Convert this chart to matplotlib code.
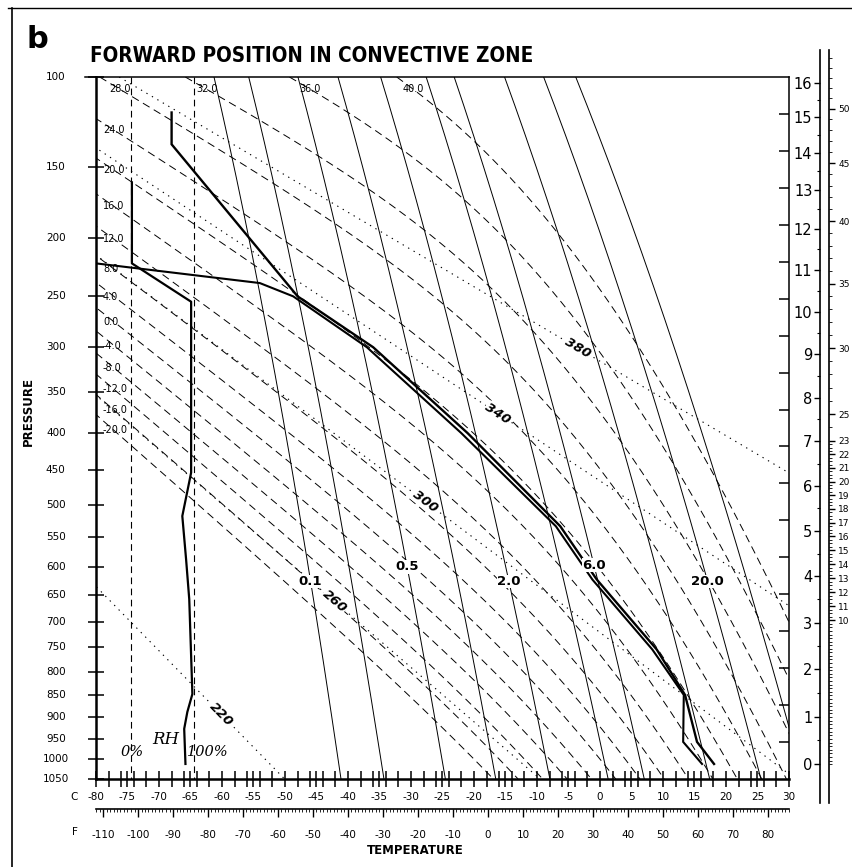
import numpy as np
import matplotlib
matplotlib.use("Agg")
import matplotlib.pyplot as plt
from matplotlib.lines import Line2D
from matplotlib.ticker import FixedLocator, NullFormatter

plt.rcParams["axes.unicode_minus"] = False

# ---------------------------------------------------------------- data
dry_theta = [220, 260, 300, 340, 380]                      # potential temperature, K
dry_label_p = [893, 661, 495, 375, 301]                    # hPa where each label sits

moist_thetaw = [-20, -16, -12, -8, -4, 0, 4, 8, 12, 16, 20, 24, 28, 32, 36, 40]   # deg C
moist_top_labelled = [28, 32, 36, 40]

mix_ratio = [0.1, 0.2, 0.5, 1.0, 2.0, 4.0, 6.0, 12.0, 20.0, 30.0]   # g/kg
mix_labels = ["0.1", "0.5", "2.0", "6.0", "20.0"]
mix_label_p = [625, 600, 625, 597, 625]

# sounding: temperature
temp_p = [1012, 958, 850, 754, 622, 533, 400, 300, 250, 136, 118]
temp_c = [18.1, 15.4, 13.5, 9.0, -0.5, -6.3, -21.0, -36.0, -48.0, -68.0, -68.0]
# sounding: dew point
dew_p = [1012, 958, 850, 754, 622, 533, 400, 300, 250, 238, 221]
dew_c = [16.2, 13.2, 13.3, 8.3, -1.2, -7.0, -22.0, -37.0, -48.7, -54.0, -80.0]
# relative humidity profile, percent
rh_p = [1012, 927, 888, 848, 657, 587, 517, 453, 255, 221, 160]
rh_pct = [87, 85, 90, 98, 93, 88, 82, 96, 96, 2, 2]

pressure_ticks = list(range(100, 1051, 50))
km_ticks = list(range(0, 17))
kft_labels = [50, 45, 40, 35, 30, 25, 23, 22, 21, 20, 19, 18, 17, 16, 15, 14, 13, 12, 11, 10]
c_ticks = list(range(-80, 31, 5))
f_ticks = list(range(-110, 81, 10))

# ---------------------------------------------------------------- helpers
KAPPA = 0.2857
W, H, DPI = 853, 867, 100


def fwd(p):
    return np.power(np.clip(p, 1e-6, None), KAPPA)


def inv(y):
    return np.power(np.clip(y, 1e-9, None), 1.0 / KAPPA)


def es_hpa(tc):
    return 6.112 * np.exp(17.67 * tc / (tc + 243.5))


def theta_e_sat(tk, p):
    """Bolton (1980) equivalent potential temperature of saturated air."""
    es = es_hpa(tk - 273.15)
    r = 622.0 * es / (p - es)
    th = tk * (1000.0 / (p - es)) ** 0.2854
    return th * np.exp((3036.0 / tk - 1.78) * r * (1 + 0.448e-3 * r) / 1000.0)


def moist_profile(thetaw_c, p_grid):
    """Pseudo-adiabats: temperature conserving saturated theta-e."""
    targets = theta_e_sat(np.asarray(thetaw_c, float) + 273.15, 1000.0)
    t_try = np.arange(140.0, 320.0, 0.05)
    out = np.empty((len(p_grid), len(targets)))
    for i, p in enumerate(p_grid):
        valid = es_hpa(t_try - 273.15) < 0.3 * p
        tt = t_try[valid]
        te = theta_e_sat(tt, p)
        out[i] = np.interp(targets, te, tt, right=np.nan) - 273.15
    return out


def mixing_ratio_temp(w, p):
    e = (w / 1000.0) * p / (0.622 + w / 1000.0)
    a = np.log(e / 6.112)
    return 243.5 * a / (17.67 - a)


def std_p_from_z(zm):
    zm = np.asarray(zm, float)
    p_trop = 1013.25 * np.clip(1 - 2.25577e-5 * zm, 1e-6, None) ** 5.25588
    p_strat = 226.32 * np.exp(-(zm - 11000.0) / 6341.6)
    return np.where(zm <= 11000.0, p_trop, p_strat)


# ---------------------------------------------------------------- figure
fig = plt.figure(figsize=(W / DPI, H / DPI), dpi=DPI)
fig.patch.set_facecolor("white")

X0, X1, Y0, Y1 = 96, 789, 77, 779          # plot frame, pixels from top-left


def fx(px):
    return px / W


def fy(py):
    return 1 - py / H


ax = fig.add_axes([fx(X0), fy(Y1), fx(X1) - fx(X0), fy(Y0) - fy(Y1)])
ax.set_yscale("function", functions=(fwd, inv))
ax.set_xlim(-80, 30)
ax.set_ylim(1050, 100)
for s in ax.spines.values():
    s.set_linewidth(1.1)
ax.spines["left"].set_linewidth(1.8)
ax.spines["bottom"].set_linewidth(1.8)

p_grid = np.linspace(100, 1050, 400)

# dry adiabats (dotted)
for th, lp in zip(dry_theta, dry_label_p):
    t = th * (p_grid / 1000.0) ** KAPPA - 273.15
    ax.plot(t, p_grid, color="black", lw=0.8, dashes=(1.2, 4.5))
    tl = th * (lp / 1000.0) ** KAPPA - 273.15
    a = ax.transData.transform([[th * ((lp - 20) / 1000.0) ** KAPPA - 273.15, lp - 20],
                                [th * ((lp + 20) / 1000.0) ** KAPPA - 273.15, lp + 20]])
    ang = np.degrees(np.arctan2(a[1, 1] - a[0, 1], a[1, 0] - a[0, 0]))
    ax.text(tl, lp, str(th), rotation=ang, rotation_mode="anchor", ha="center", va="center",
            fontsize=9.5, fontweight="bold", fontstyle="italic",
            bbox=dict(facecolor="white", edgecolor="none", pad=0.3))

# moist adiabats (dashed)
mt = moist_profile(moist_thetaw, p_grid)
for j, tw in enumerate(moist_thetaw):
    col = mt[:, j]
    ax.plot(col, p_grid, color="black", lw=0.7, dashes=(8, 5))
    if tw in moist_top_labelled:
        pl = 106.0
        tl = np.interp(pl, p_grid, col)
        ax.text(tl, pl, f"{tw:.1f}", ha="center", va="center", fontsize=7)
    else:
        ok = np.isfinite(col)
        order = np.argsort(col[ok])
        pl = np.interp(-78.5, col[ok][order], p_grid[ok][order])
        ax.text(-78.9, pl * 1.025, f"{tw:.1f}", ha="left", va="center", fontsize=7)

# saturation mixing ratio lines (solid)
for w in mix_ratio:
    ax.plot(mixing_ratio_temp(w, p_grid), p_grid, color="black", lw=0.7)
for lab, lp in zip(mix_labels, mix_label_p):
    ax.text(mixing_ratio_temp(float(lab), lp), lp, lab, ha="center", va="center",
            fontsize=9.5, fontweight="bold",
            bbox=dict(facecolor="white", edgecolor="none", pad=0.2))

# relative humidity scale and profile
RH0, RH100 = -74.5, -64.5
for xr in (RH0, RH100):
    ax.plot([xr, xr], [100, 1050], color="black", lw=0.8, dashes=(6, 4))
rh_x = RH0 + np.array(rh_pct) / 100.0 * (RH100 - RH0)
ax.plot(rh_x, rh_p, color="black", lw=1.6)
ax.text(-69.0, 962, "RH", fontsize=12, fontstyle="italic", family="DejaVu Serif", ha="center")
ax.text(-74.3, 992, "0%", fontsize=10.5, fontstyle="italic", family="DejaVu Serif", ha="center")
ax.text(-62.2, 992, "100%", fontsize=10.5, fontstyle="italic", family="DejaVu Serif", ha="center")

# sounding
ax.plot(dew_c, dew_p, color="black", lw=1.5, solid_joinstyle="miter")
ax.plot(temp_c, temp_p, color="black", lw=1.7, solid_joinstyle="miter")

# axes ticks
ax.yaxis.set_major_locator(FixedLocator(pressure_ticks))
ax.yaxis.set_major_formatter(NullFormatter())
ax.yaxis.set_minor_locator(FixedLocator([]))
ax.tick_params(axis="y", which="major", direction="inout", length=11, width=1.1,
               left=True, right=False)
cticks = sorted(set(range(-80, 31, 2)) | set(range(-80, 31, 5)))
ax.xaxis.set_major_locator(FixedLocator(cticks))
ax.xaxis.set_major_formatter(NullFormatter())
ax.xaxis.set_minor_locator(FixedLocator([]))
ax.tick_params(axis="x", which="major", direction="inout", length=11, width=1.1)

ytr = ax.get_yaxis_transform()
for p in pressure_ticks:
    ax.text(-0.058, p, str(p), transform=ytr, ha="center", va="center", fontsize=7.5)
xtr = ax.get_xaxis_transform()
for c in c_ticks:
    ax.text(c, -0.026, f"{c}", transform=xtr, ha="center", va="center", fontsize=7.5)
ax.text(-0.031, -0.026, "C", transform=ax.transAxes, ha="center", va="center", fontsize=7.5)

# right-hand pressure ticks
sec = ax.secondary_yaxis("right")
sec.yaxis.set_major_locator(FixedLocator(list(range(150, 1001, 50))))
sec.yaxis.set_major_formatter(NullFormatter())
sec.yaxis.set_minor_locator(FixedLocator([]))
sec.tick_params(direction="in", length=7, width=1.1)
sec.spines["right"].set_visible(False)

# Fahrenheit scale
sx = ax.secondary_xaxis(-0.043, functions=(lambda c: c * 1.8 + 32, lambda f: (f - 32) / 1.8))
sx.xaxis.set_major_locator(FixedLocator(f_ticks))
sx.xaxis.set_minor_locator(FixedLocator(list(range(-112, 87, 1))))
sx.tick_params(which="major", direction="out", length=6, width=1.0, pad=9, labelsize=7.5)
sx.tick_params(which="minor", direction="out", length=2.5, width=0.6)
sx.spines["bottom"].set_linewidth(1.2)
ax.text(-0.031, -0.075, "F", transform=ax.transAxes, ha="center", va="center", fontsize=7.5)

fig.text(fx(415), fy(850), "TEMPERATURE", ha="center", va="center", fontsize=8.5,
         fontweight="bold")
fig.text(fx(28), fy(412), "PRESSURE", ha="center", va="center", fontsize=8.5,
         fontweight="bold", rotation=90)

# height scales
top_px, bot_px = 50, 803
p_top = inv(fwd(100) + (top_px - Y0) / (Y1 - Y0) * (fwd(1050) - fwd(100)))
p_bot = inv(fwd(100) + (bot_px - Y0) / (Y1 - Y0) * (fwd(1050) - fwd(100)))

axk = fig.add_axes([fx(820), fy(bot_px), 0.0001, fy(top_px) - fy(bot_px)])
axk.set_yscale("function", functions=(fwd, inv))
axk.set_ylim(p_bot, p_top)
for s in ("top", "bottom", "right"):
    axk.spines[s].set_visible(False)
axk.spines["left"].set_linewidth(1.2)
axk.set_xticks([])
kp = std_p_from_z(np.array(km_ticks) * 1000.0)
axk.yaxis.set_major_locator(FixedLocator(kp))
axk.yaxis.set_major_formatter(plt.FixedFormatter([str(k) for k in km_ticks]))
half = std_p_from_z((np.arange(0, 16) + 0.5) * 1000.0)
axk.yaxis.set_minor_locator(FixedLocator(half))
axk.tick_params(which="major", direction="out", length=4.5, width=1.0, labelsize=10.5, pad=1)
axk.tick_params(which="minor", direction="out", length=2.5, width=0.8)

axf = fig.add_axes([fx(829), fy(bot_px), 0.0001, fy(top_px) - fy(bot_px)])
axf.set_yscale("function", functions=(fwd, inv))
axf.set_ylim(p_bot, p_top)
for s in ("top", "bottom", "left"):
    axf.spines[s].set_visible(False)
axf.spines["right"].set_linewidth(1.2)
axf.set_xticks([])
axf.yaxis.tick_right()
fp = std_p_from_z(np.array(kft_labels) * 304.8)
axf.yaxis.set_major_locator(FixedLocator(fp))
axf.yaxis.set_major_formatter(plt.FixedFormatter([str(k) for k in kft_labels]))
fine = np.concatenate([np.arange(0, 23, 0.25), np.arange(23, 56, 1.0)])
axf.yaxis.set_minor_locator(FixedLocator(std_p_from_z(fine * 304.8)))
axf.tick_params(which="major", direction="out", length=4, width=1.0, labelsize=6.5, pad=2.5)
axf.tick_params(which="minor", direction="out", length=2.5, width=0.6)

# title block and frame
fig.text(fx(27), fy(40), "b", fontsize=22, fontweight="bold", ha="left", va="center")
fig.text(fx(90), fy(56), "FORWARD POSITION IN CONVECTIVE ZONE", fontsize=14.8,
         family="DejaVu Sans", fontstretch="condensed", fontweight="bold",
         ha="left", va="center")
fig.add_artist(Line2D([fx(8), 1.0], [fy(8), fy(8)], color="black", lw=1.0))
fig.add_artist(Line2D([fx(12), fx(12)], [fy(8), 0.0], color="black", lw=1.2))
fig.add_artist(Line2D([fx(85), fx(X0)], [fy(Y0), fy(Y0)], color="black", lw=1.1))

fig.savefig("out.png", dpi=DPI)
